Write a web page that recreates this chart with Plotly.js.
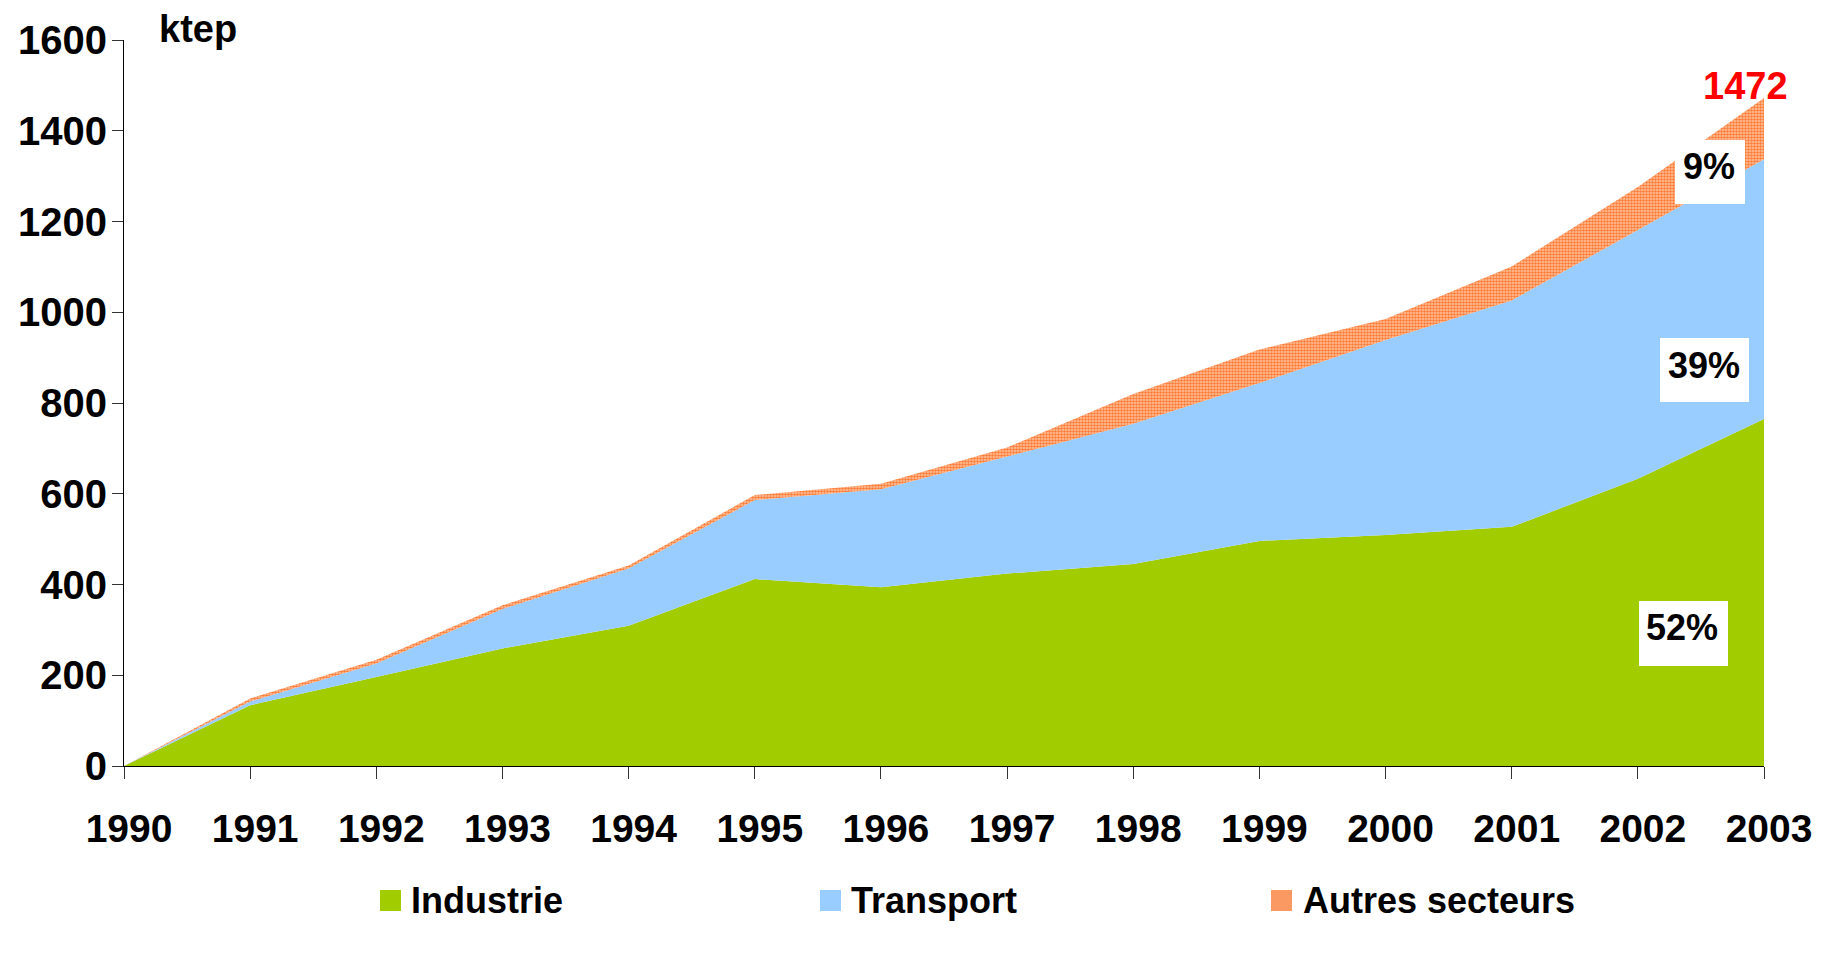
<!DOCTYPE html>
<html>
<head>
<meta charset="utf-8">
<script src="https://cdn.plot.ly/plotly-3.0.1.min.js"></script>
<style>
html,body{margin:0;padding:0;background:#fff;}
#chart{width:1832px;height:953px;}
</style>
</head>
<body>
<div id="chart"></div>
<script>
// ---- data ----
const years = [1990,1991,1992,1993,1994,1995,1996,1997,1998,1999,2000,2001,2002,2003];
const industrie = [0,134,196,259,309,412,394,424,445,496,509,527,633,765];
const transport = [0,8,30,87,126,174,216,258,309,348,430,499,548,572];
const autres    = [0,7,8,8,7,11,12,20,66,74,46,75,95,135];
const seriesNames = ["Industrie","Transport","Autres secteurs"];
const totalLabel = "1472";
const shareLabels = ["52%","39%","9%"];
const unitLabel = "ktep";
const yTicks = [0,200,400,600,800,1000,1200,1400,1600];

// ---- styles ----
const FONT = "Liberation Sans, Arial, Helvetica, sans-serif";
const colors = ["#A0CC00","#99CCFF","#FA9A62"];
const L = 124, R = 1764, T = 40, B = 766;
const px = x => (x - L) / (R - L);
const py = y => (B - y) / (B - T);

const series = [industrie, transport, autres];
const traces = series.map((vals, i) => {
  const t = {
    type: "scatter",
    x: years,
    y: vals,
    name: seriesNames[i],
    stackgroup: "one",
    mode: "none",
    fillcolor: colors[i],
    line: {width: 0},
    showlegend: false,
    hoverinfo: "x+y+name"
  };
  if (i === 2) {
    t.fillpattern = {shape: ".", bgcolor: "#FFC7A3", fgcolor: "#FF7B36", size: 3, solidity: 0.55, fillmode: "replace"};
  }
  return t;
});

const boldFont = (size, color) => ({family: FONT, size: size, color: color || "#000", weight: "bold"});

const annotations = [
  {text: unitLabel, xref: "paper", yref: "paper", x: px(157), y: py(28.5), xanchor: "left", yanchor: "middle", showarrow: false, font: boldFont(38)},
  {text: totalLabel, xref: "paper", yref: "paper", x: px(1745), y: py(86), xanchor: "center", yanchor: "middle", showarrow: false, font: boldFont(38, "#FF0000")},
  {text: shareLabels[2], xref: "paper", yref: "paper", x: px(1709), y: py(166), xanchor: "center", yanchor: "middle", showarrow: false, font: boldFont(36)},
  {text: shareLabels[1], xref: "paper", yref: "paper", x: px(1704), y: py(365), xanchor: "center", yanchor: "middle", showarrow: false, font: boldFont(36)},
  {text: shareLabels[0], xref: "paper", yref: "paper", x: px(1682), y: py(627), xanchor: "center", yanchor: "middle", showarrow: false, font: boldFont(36)}
];

const shapes = [
  {type: "rect", xref: "paper", yref: "paper", x0: px(1675), x1: px(1745), y0: py(204), y1: py(140), fillcolor: "#fff", line: {width: 0}, layer: "above"},
  {type: "rect", xref: "paper", yref: "paper", x0: px(1660), x1: px(1749), y0: py(402), y1: py(338), fillcolor: "#fff", line: {width: 0}, layer: "above"},
  {type: "rect", xref: "paper", yref: "paper", x0: px(1639), x1: px(1728), y0: py(666), y1: py(601), fillcolor: "#fff", line: {width: 0}, layer: "above"}
];

// manual legend (square swatch + label)
const legendSquareX = [380, 820, 1271];
const legendTextX = [409, 849, 1301];
seriesNames.forEach((n, i) => {
  shapes.push({type: "rect", xref: "paper", yref: "paper", x0: px(legendSquareX[i]), x1: px(legendSquareX[i] + 21), y0: py(911), y1: py(890), fillcolor: colors[i], line: {width: 0}});
  annotations.push({text: n, xref: "paper", yref: "paper", x: px(legendTextX[i]), y: py(900), xanchor: "left", yanchor: "middle", showarrow: false, font: boldFont(36)});
});

const layout = {
  width: 1832, height: 953,
  margin: {l: L, r: 1832 - R, t: T, b: 953 - B, pad: 0},
  paper_bgcolor: "#fff", plot_bgcolor: "#fff",
  showlegend: false,
  font: {family: FONT, color: "#000"},
  xaxis: {
    range: [1990, 2003], tickvals: years, ticktext: years.map(String),
    ticks: "outside", ticklen: 12, tickcolor: "#333", tickwidth: 1,
    showline: true, linecolor: "#000", linewidth: 1,
    showgrid: false, zeroline: false,
    tickfont: boldFont(39), ticklabelstandoff: 16, ticklabelshift: 5
  },
  yaxis: {
    range: [0, 1600], tickvals: yTicks,
    ticks: "outside", ticklen: 11, tickcolor: "#333", tickwidth: 1,
    showline: true, linecolor: "#000", linewidth: 1,
    showgrid: false, zeroline: false,
    tickfont: boldFont(40), ticklabelstandoff: -3
  },
  annotations: annotations,
  shapes: shapes
};

Plotly.newPlot("chart", traces, layout, {displayModeBar: false, staticPlot: true});
</script>
</body>
</html>
